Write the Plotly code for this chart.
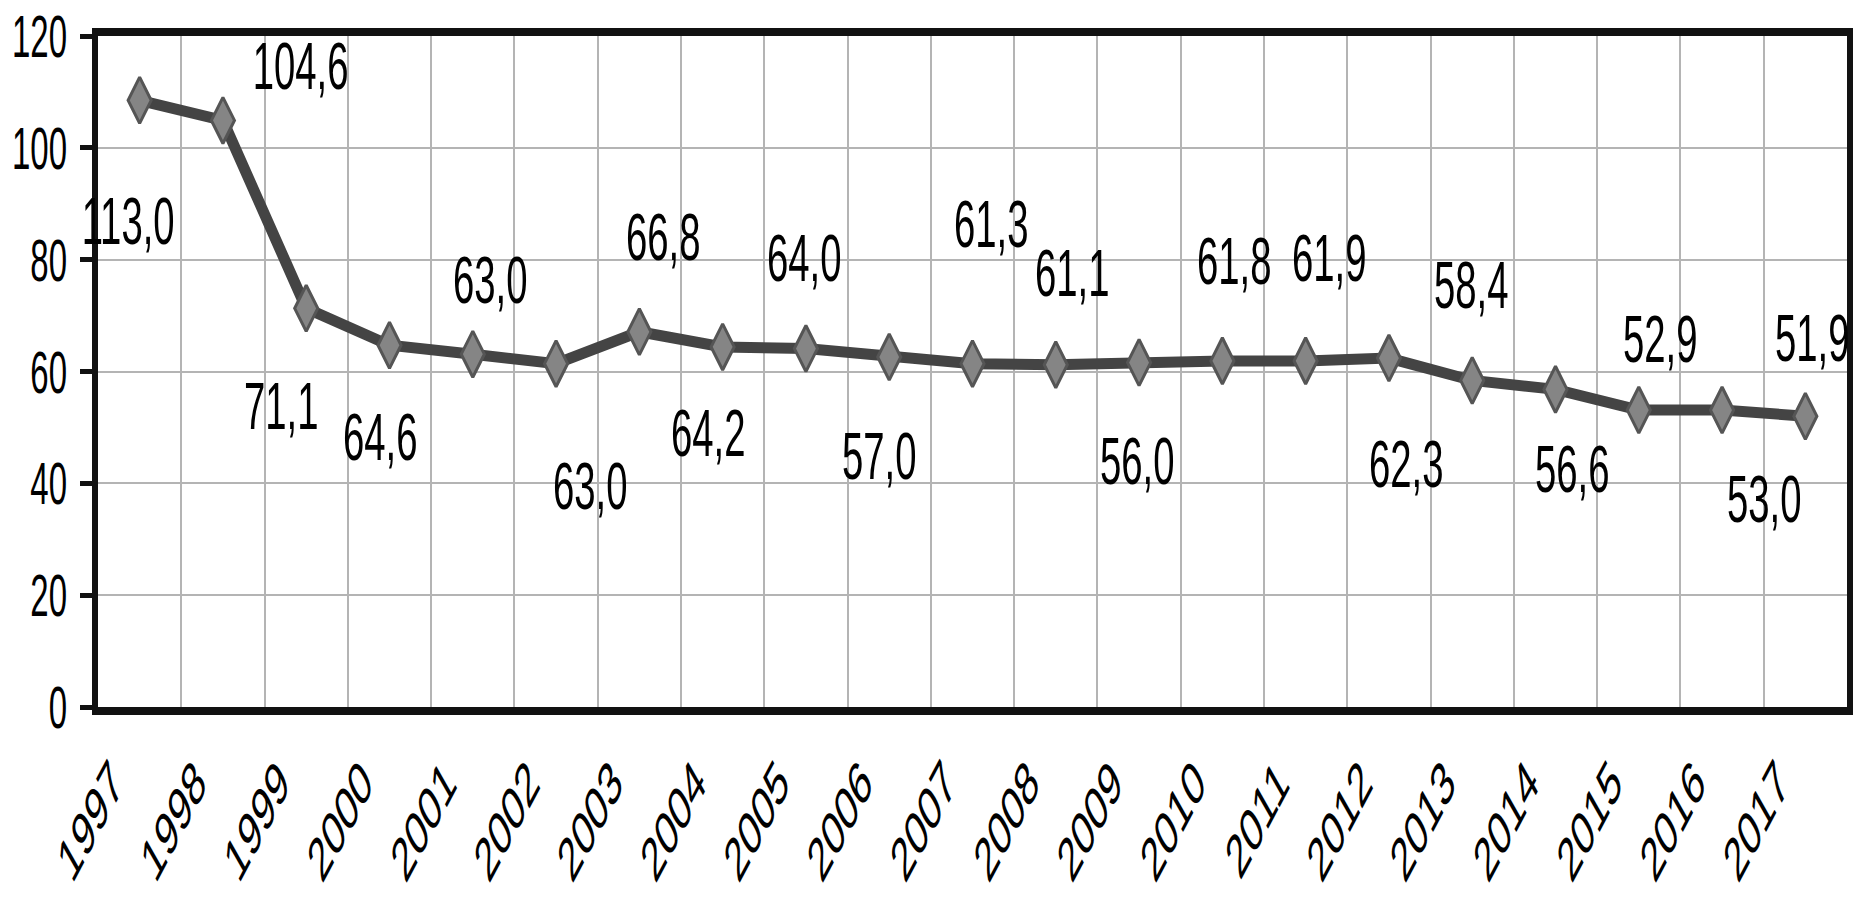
import plotly.graph_objects as go

years = [str(y) for y in range(1997, 2018)]
values = [108.5, 104.9, 71.3, 64.7, 63.1, 61.4, 67.1, 64.4, 64.1, 62.6, 61.4,
          61.2, 61.6, 61.9, 61.9, 62.4, 58.4, 56.8, 53.1, 53.1, 52.0]
label_texts = ["113,0", "104,6", "71,1", "64,6", "63,0", "63,0", "66,8", "64,2",
               "64,0", "57,0", "61,3", "61,1", "56,0", "61,8", "61,9", "62,3",
               "58,4", "56,6", "52,9", "53,0", "51,9"]
y_ticks = [0, 20, 40, 60, 80, 100, 120]

# label placement (category-index x, axis-unit y) — layout only
label_x = [-0.14, 1.93, 1.70, 2.89, 4.21, 5.41, 6.28, 6.83, 7.98, 8.88, 10.22,
           11.19, 11.98, 13.14, 14.28, 15.20, 15.98, 17.20, 18.25, 19.50, 20.08]
label_y = [86.9, 114.6, 53.8, 48.3, 76.3, 39.5, 84.0, 49.0, 80.3, 44.9, 86.3,
           77.6, 44.0, 79.7, 80.3, 43.4, 75.4, 42.5, 65.8, 37.2, 66.0]

FONT = "Liberation Sans, Arial, sans-serif"

fig = go.Figure()
fig.add_trace(go.Scatter(
    x=years, y=values, mode="lines+markers",
    line=dict(color="#444444", width=11),
    marker=dict(symbol="diamond-tall", size=33, color="#858585",
                line=dict(color="#555555", width=3)),
    cliponaxis=False, showlegend=False,
))

for t, lx, ly in zip(label_texts, label_x, label_y):
    fig.add_annotation(x=lx, y=ly, xref="x", yref="y", text=t, showarrow=False,
                       font=dict(family=FONT, size=66, color="#000000"),
                       xanchor="center", yanchor="middle")

fig.update_layout(
    width=1854, height=908,
    margin=dict(l=98, r=7, t=36, b=201, autoexpand=False),
    paper_bgcolor="white", plot_bgcolor="white",
    font=dict(family=FONT, color="#000000"),
)
fig.update_xaxes(
    type="category", categoryorder="array", categoryarray=years,
    range=[-0.5, 20.5], tickson="boundaries", automargin=False,
    showgrid=True, gridcolor="#b4b4b4", gridwidth=2,
    showline=True, linecolor="#111111", linewidth=8, mirror=True,
    ticks="", tickangle=-46, tickfont=dict(family=FONT, size=62),
    ticklabelstandoff=6, ticklabelshift=-37,
    zeroline=False,
)
fig.update_yaxes(
    range=[0, 120], tickvals=y_ticks, ticktext=[str(v) for v in y_ticks],
    automargin=False,
    showgrid=True, gridcolor="#b4b4b4", gridwidth=2,
    showline=True, linecolor="#111111", linewidth=6, mirror=True,
    ticks="outside", ticklen=12, tickwidth=5, tickcolor="#111111",
    tickfont=dict(family=FONT, size=60), ticklabelstandoff=1,
    zeroline=False,
)

# page margin reset + condense glyphs horizontally (reference text is a narrow face)
post = """
(function(){
  document.documentElement.style.margin = '0';
  document.body.style.margin = '0';
  document.body.style.overflow = 'hidden';
  var gd = document.getElementById('{plot_id}');
  function sq(t, k){
    var w = t.getComputedTextLength();
    if (w > 0) {
      t.setAttribute('textLength', (w * k).toFixed(2));
      t.setAttribute('lengthAdjust', 'spacingAndGlyphs');
    }
  }
  gd.querySelectorAll('text.annotation-text').forEach(function(t){ sq(t, 0.58); });
  gd.querySelectorAll('g.ytick text').forEach(function(t){ sq(t, 0.55); });
  // rotated x labels: squeeze horizontally in screen space about their anchor
  gd.querySelectorAll('g.xtick text').forEach(function(t){
    var orig = t.getAttribute('transform') || '';
    var x = parseFloat(t.getAttribute('x') || '0');
    var y = parseFloat(t.getAttribute('y') || '0');
    var px = x, py = y;
    var tl = t.transform.baseVal;
    if (tl && tl.numberOfItems > 0) {
      var m = tl.consolidate().matrix;
      px = m.a * x + m.c * y + m.e;
      py = m.b * x + m.d * y + m.f;
    }
    var k = 0.55;
    t.setAttribute('transform', 'translate(' + px + ',' + py + ') scale(' + k + ',1) translate(' +
      (-px) + ',' + (-py) + ') ' + orig);
  });
})();
"""

fig.write_html("out.html", post_script=post, config={"displayModeBar": False})
